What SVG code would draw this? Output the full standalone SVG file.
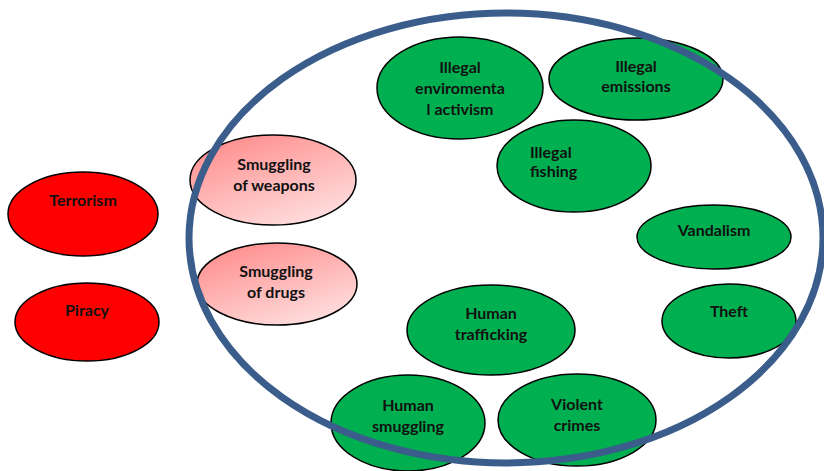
<svg xmlns="http://www.w3.org/2000/svg" width="824" height="471" viewBox="0 0 824 471">
<defs>
<linearGradient id="pink" x1="0" y1="0" x2="0.6" y2="1">
<stop offset="0" stop-color="#FF8585"/>
<stop offset="1" stop-color="#FFDADA"/>
</linearGradient>
</defs>
<style>
.n ellipse{stroke:#000;stroke-width:1.5}
.red{fill:#FF0000}
.pk{fill:url(#pink)}
.gr{fill:#00B050}
text{font-family:"Lato","Open Sans",sans-serif;font-weight:bold;font-size:16px;fill:#111;text-anchor:middle}
.big{fill:none;stroke:#3A5D8B;stroke-width:7}
</style>
<rect width="824" height="471" fill="#fff"/>
<g id="terrorism" class="n"><ellipse class="red" cx="83" cy="214" rx="75" ry="42"/><text x="83" y="206">Terrorism</text></g>
<g id="piracy" class="n"><ellipse class="red" cx="87" cy="322" rx="72" ry="39"/><text x="87" y="316">Piracy</text></g>
<g id="smuggling-weapons" class="n"><ellipse class="pk" cx="273" cy="180" rx="83" ry="45"/><text x="274" y="170">Smuggling</text><text x="274" y="191">of weapons</text></g>
<g id="smuggling-drugs" class="n"><ellipse class="pk" cx="277" cy="284" rx="80" ry="41"/><text x="276" y="277">Smuggling</text><text x="276" y="298">of drugs</text></g>
<g id="illegal-env" class="n"><ellipse class="gr" cx="460" cy="88" rx="83" ry="51"/><text x="460" y="73">Illegal</text><text x="460" y="94">enviromenta</text><text x="460" y="115">l activism</text></g>
<g id="illegal-emissions" class="n"><ellipse class="gr" cx="636" cy="79" rx="87" ry="41"/><text x="636" y="72">Illegal</text><text x="636" y="92">emissions</text></g>
<g id="illegal-fishing" class="n"><ellipse class="gr" cx="574" cy="166" rx="77" ry="46"/><text x="530" y="158" style="text-anchor:start">Illegal</text><text x="530" y="177" style="text-anchor:start">fishing</text></g>
<g id="vandalism" class="n"><ellipse class="gr" cx="714" cy="237" rx="77" ry="32"/><text x="714" y="236">Vandalism</text></g>
<g id="theft" class="n"><ellipse class="gr" cx="729" cy="321" rx="67" ry="37"/><text x="729" y="317">Theft</text></g>
<g id="human-trafficking" class="n"><ellipse class="gr" cx="491" cy="330" rx="84" ry="45"/><text x="491" y="319">Human</text><text x="491" y="340">trafficking</text></g>
<g id="human-smuggling" class="n"><ellipse class="gr" cx="408" cy="423" rx="77" ry="48"/><text x="408" y="411">Human</text><text x="408" y="432">smuggling</text></g>
<g id="violent-crimes" class="n"><ellipse class="gr" cx="577" cy="420" rx="79" ry="46"/><text x="577" y="410">Violent</text><text x="577" y="431">crimes</text></g>
<g id="connectors"><ellipse class="big" cx="506" cy="238" rx="317" ry="225"/></g>
</svg>
